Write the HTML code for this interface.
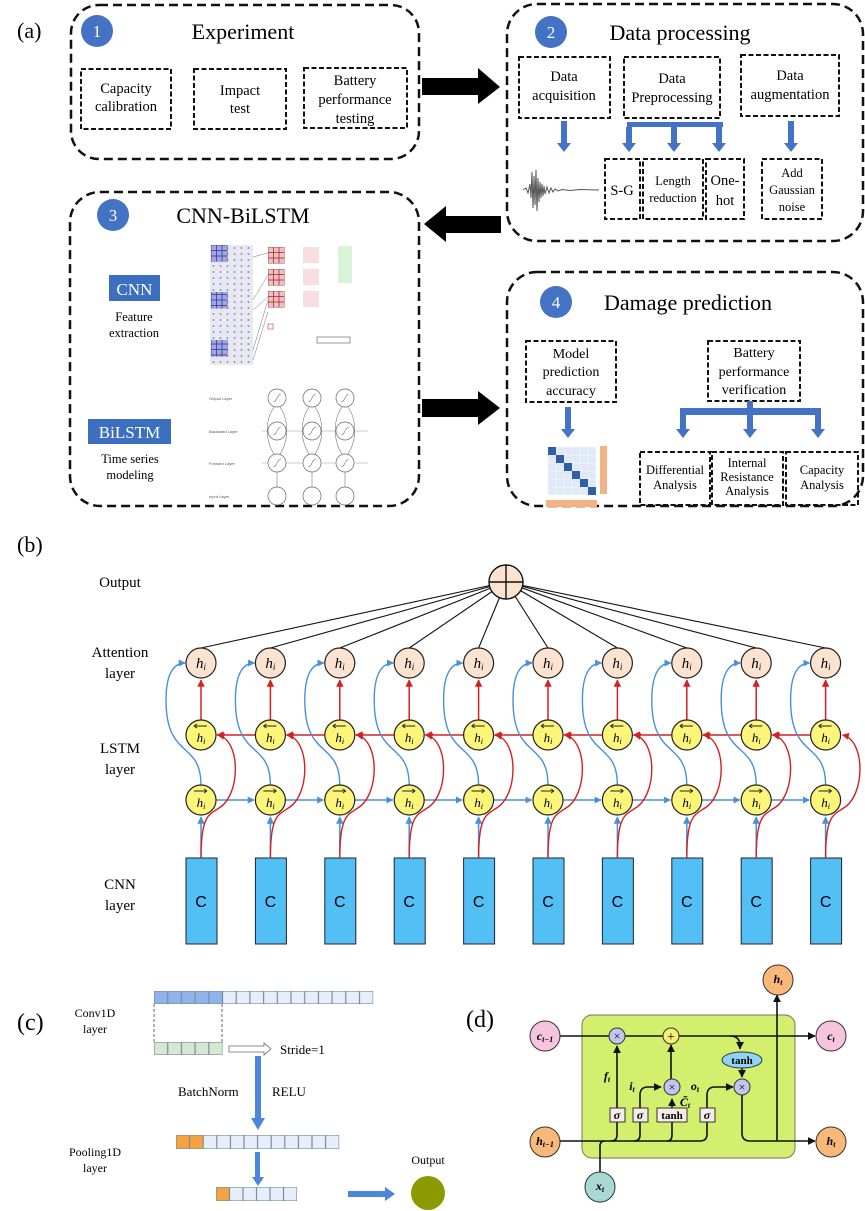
<!DOCTYPE html>
<html><head><meta charset="utf-8"><style>
html,body{margin:0;padding:0;background:#fff}
svg{display:block}
.s{font-family:"Liberation Serif",serif}
.a{font-family:"Liberation Sans",sans-serif}
</style></head><body>
<svg width="865" height="1211" viewBox="0 0 865 1211" xmlns="http://www.w3.org/2000/svg" xmlns:xlink="http://www.w3.org/1999/xlink">
<defs>
<marker id="mb" viewBox="0 0 10 10" refX="9" refY="5" markerWidth="5" markerHeight="5" orient="auto"><path d="M0,0L10,5L0,10z" fill="#4a90d9"/></marker>
<marker id="mr" viewBox="0 0 10 10" refX="9" refY="5" markerWidth="5" markerHeight="5" orient="auto"><path d="M0,0L10,5L0,10z" fill="#d62020"/></marker>
<marker id="mk" viewBox="0 0 10 10" refX="9" refY="5" markerWidth="5" markerHeight="5" orient="auto"><path d="M0,0L10,5L0,10z" fill="#111"/></marker>
<pattern id="pl" patternUnits="userSpaceOnUse" x="154" y="991" width="13.7" height="13"><rect width="13.7" height="13" fill="#e6eefa" stroke="#7a8aa0" stroke-width="1.2"/></pattern>
<pattern id="pb" patternUnits="userSpaceOnUse" x="154" y="991" width="13.7" height="13"><rect width="13.7" height="13" fill="#8fb4ec" stroke="#7a8aa0" stroke-width="1.2"/></pattern>
<pattern id="pg" patternUnits="userSpaceOnUse" x="154" y="1042" width="13.7" height="13"><rect width="13.7" height="13" fill="#d6e8cf" stroke="#7a8aa0" stroke-width="1.2"/></pattern>
<pattern id="pl2" patternUnits="userSpaceOnUse" x="176" y="1135" width="13.6" height="14"><rect width="13.6" height="14" fill="#e6eefa" stroke="#7a8aa0" stroke-width="1.2"/></pattern>
<pattern id="po2" patternUnits="userSpaceOnUse" x="176" y="1135" width="13.6" height="14"><rect width="13.6" height="14" fill="#f4a340" stroke="#7a8aa0" stroke-width="1.2"/></pattern>
<pattern id="pl3" patternUnits="userSpaceOnUse" x="216" y="1187" width="13.5" height="14"><rect width="13.5" height="14" fill="#e6eefa" stroke="#7a8aa0" stroke-width="1.2"/></pattern>
<pattern id="po3" patternUnits="userSpaceOnUse" x="216" y="1187" width="13.5" height="14"><rect width="13.5" height="14" fill="#f4a340" stroke="#7a8aa0" stroke-width="1.2"/></pattern>
<pattern id="tb" patternUnits="userSpaceOnUse" x="211" y="245" width="5.5" height="5.5"><rect width="5.5" height="5.5" fill="#9fa6e0" stroke="#3a3a9a" stroke-width="0.8"/></pattern>
<pattern id="tr" patternUnits="userSpaceOnUse" x="268" y="247" width="5.5" height="5.5"><rect width="5.5" height="5.5" fill="#f0c0c0" stroke="#a03030" stroke-width="0.8"/></pattern>
<pattern id="tg" patternUnits="userSpaceOnUse" x="210" y="245" width="7" height="6"><rect width="7" height="6" fill="#e8e8f4"/><circle cx="3.5" cy="3" r="1" fill="#999"/></pattern>
<pattern id="cmp" patternUnits="userSpaceOnUse" x="548" y="447" width="8" height="8"><rect width="8" height="8" fill="#e0e9f7" stroke="#fff" stroke-width="0.4"/></pattern>
<g id="col">
<rect x="-15" y="858" width="31" height="86" fill="#52bff5" stroke="#223" stroke-width="1"/>
<path d="M0,858V817" stroke="#4a90d9" stroke-width="1.5" fill="none" marker-end="url(#mb)"/>
<path d="M0,858C0,815 8,815 18,808C40,795 40,740 17,735" stroke="#d62020" stroke-width="1.4" fill="none" marker-end="url(#mr)"/>
<path d="M0,785C0,740 -35,760 -35,700C-35,670 -25,663 -16,663" stroke="#4a90d9" stroke-width="1.4" fill="none" marker-end="url(#mb)"/>
<path d="M0,720V680" stroke="#d62020" stroke-width="1.5" fill="none" marker-end="url(#mr)"/>
<circle cx="0" cy="663" r="15" fill="#fbe3d0" stroke="#222" stroke-width="1.2"/>
<circle cx="0" cy="735" r="15" fill="#fbf57a" stroke="#222" stroke-width="1.2"/>
<circle cx="0" cy="800" r="15" fill="#fbf57a" stroke="#222" stroke-width="1.2"/>
<path d="M-7,726H6M-7,726l3,-2M-7,726l3,2M-7,791H6M6,791l-3,-2M6,791l-3,2" stroke="#222" stroke-width="0.9" fill="none"/>
</g>
<g id="hz">
<path d="M15,800H53" stroke="#4a90d9" stroke-width="1.4" fill="none" marker-end="url(#mb)"/>
<path d="M54,735H16" stroke="#d62020" stroke-width="1.5" fill="none" marker-end="url(#mr)"/>
</g>
<g id="lc">
<circle cx="0" cy="398" r="9" fill="#fff" stroke="#666" stroke-width="0.7"/>
<circle cx="0" cy="431" r="9" fill="#fff" stroke="#666" stroke-width="0.7"/>
<circle cx="0" cy="463" r="9" fill="#fff" stroke="#666" stroke-width="0.7"/>
<circle cx="0" cy="496" r="9" fill="#fff" stroke="#666" stroke-width="0.7"/>
<path d="M-4,402C0,402 0,394 4,394M-4,435C0,435 0,427 4,427M-4,467C0,467 0,459 4,459M0,487V472M-3,454C-12,440 -12,420 -3,407M3,454C12,440 12,420 3,407" stroke="#777" stroke-width="0.6" fill="none"/>
</g>
</defs>
<g class="s" fill="#000">
<!-- (a) -->
<text x="17" y="38" font-size="22">(a)</text>
<g fill="none" stroke="#111" stroke-width="2.5" stroke-dasharray="9,5">
<rect x="71" y="5" width="348" height="154" rx="28"/>
<rect x="507" y="4" width="356" height="237" rx="30"/>
<rect x="70" y="192" width="349" height="314" rx="30"/>
<rect x="507" y="272" width="356" height="234" rx="30"/>
</g>
<g fill="none" stroke="#111" stroke-width="2" stroke-dasharray="5,2.5">
<rect x="81" y="69" width="90" height="60"/><rect x="194" y="69" width="92" height="60"/><rect x="304" y="68" width="103" height="60"/>
<rect x="519" y="57" width="91" height="61"/><rect x="624" y="57" width="96" height="61"/><rect x="741" y="55" width="98" height="61"/>
<rect x="605" y="159" width="35" height="60"/><rect x="643" y="159" width="60" height="60"/><rect x="706" y="159" width="38" height="60"/><rect x="762" y="159" width="60" height="60"/>
<rect x="526" y="341" width="90" height="61"/><rect x="708" y="341" width="92" height="60"/>
<rect x="640" y="452" width="70" height="53"/><rect x="712" y="452" width="71" height="53"/><rect x="786" y="452" width="72" height="53"/>
</g>
<g fill="#4472c4"><circle cx="97" cy="31" r="16"/><circle cx="551" cy="32" r="16"/><circle cx="113" cy="215" r="16"/><circle cx="556" cy="302" r="16"/></g>
<g fill="#fff" font-size="17" text-anchor="middle"><text x="97" y="37">1</text><text x="551" y="38">2</text><text x="113" y="221">3</text><text x="556" y="308">4</text></g>
<g font-size="22" text-anchor="middle"><text x="243" y="39">Experiment</text><text x="680" y="40">Data processing</text><text x="243" y="223">CNN-BiLSTM</text><text x="688" y="310">Damage prediction</text></g>
<g font-size="14.5" text-anchor="middle">
<text x="126" y="93">Capacity</text><text x="126" y="111">calibration</text>
<text x="240" y="95">Impact</text><text x="240" y="113">test</text>
<text x="355" y="85">Battery</text><text x="355" y="104">performance</text><text x="355" y="123">testing</text>
<text x="564" y="81">Data</text><text x="564" y="100">acquisition</text>
<text x="672" y="83">Data</text><text x="672" y="102">Preprocessing</text>
<text x="790" y="80">Data</text><text x="790" y="99">augmentation</text>
<text x="622" y="195">S-G</text><text x="725" y="185">One-</text><text x="725" y="205">hot</text>
</g>
<g font-size="14" text-anchor="middle">
<text x="571" y="358">Model</text><text x="571" y="376">prediction</text><text x="571" y="395">accuracy</text>
<text x="754" y="357">Battery</text><text x="754" y="376">performance</text><text x="754" y="394">verification</text>
</g>
<g font-size="12.5" text-anchor="middle">
<text x="673" y="185">Length</text><text x="673" y="202">reduction</text>
<text x="792" y="177">Add</text><text x="792" y="194">Gaussian</text><text x="792" y="211">noise</text>
<text x="675" y="474">Differential</text><text x="675" y="489">Analysis</text>
<text x="747" y="467">Internal</text><text x="747" y="481">Resistance</text><text x="747" y="495">Analysis</text>
<text x="822" y="474">Capacity</text><text x="822" y="489">Analysis</text>
<text x="134" y="321">Feature</text><text x="134" y="337">extraction</text>
<text x="130" y="463">Time series</text><text x="130" y="479">modeling</text>
</g>
<rect x="109" y="275" width="51" height="26" fill="#3d6fc0"/><text x="134.5" y="295" font-size="17" fill="#fff" text-anchor="middle">CNN</text>
<rect x="88" y="419" width="83" height="25" fill="#3d6fc0"/><text x="129.5" y="438" font-size="17" fill="#fff" text-anchor="middle">BiLSTM</text>
<path d="M422,78H478V68L500,87L478,104V95H422z" fill="#000"/>
<path d="M501,216H446V206L424,224L446,242V233H501z" fill="#000"/>
<path d="M422,399H478V391L500,408L478,425V417H422z" fill="#000"/>
<g fill="#4472c4">
<path d="M561,121h6v22h4l-7,9l-7,-9h4z"/>
<path d="M788,121h6v22h4l-7,9l-7,-9h4z"/>
<rect x="627" y="122" width="96" height="5"/>
<path d="M626,127h6v16h4l-7,9l-7,-9h4z"/>
<path d="M671,127h6v16h4l-7,9l-7,-9h4z"/>
<path d="M716,127h6v16h4l-7,9l-7,-9h4z"/>
<path d="M565,407h6v22h4l-7,9l-7,-9h4z"/>
<rect x="680" y="408" width="141" height="7"/>
<path d="M680,415h6v14h4l-7,9l-7,-9h4z"/>
<path d="M747,401h6v28h4l-7,9l-7,-9h4z"/>
<path d="M815,415h6v14h4l-7,9l-7,-9h4z"/>
</g>
<path d="M523,190L526,188L528,193L530,184L531,198L532,172L533,208L534,176L535,205L536,170L537,211L538,178L539,202L540,182L541,198L542,184L543,196L544,186L545,194L547,187L549,193L551,188L553,192L555,189L558,191L562,189.5L570,190.5L580,189.5L599,190" fill="none" stroke="#555" stroke-width="1"/>
<!-- confusion matrix -->
<rect x="548" y="447" width="48" height="48" fill="url(#cmp)"/>
<g fill="#2f5fa8"><rect x="548" y="447" width="8" height="8"/><rect x="556" y="455" width="8" height="8"/><rect x="564" y="463" width="8" height="8"/><rect x="572" y="471" width="8" height="8"/><rect x="580" y="479" width="8" height="8"/><rect x="588" y="487" width="8" height="8"/></g>
<rect x="600" y="446" width="7" height="48" fill="#f4b183"/>
<rect x="546" y="500" width="51" height="7" fill="#f4b183"/>
<!-- conv thumbnail -->
<rect x="210" y="245" width="43" height="120" fill="url(#tg)"/>
<rect x="211" y="245" width="16.5" height="16.5" fill="url(#tb)"/><rect x="211" y="292" width="16.5" height="16.5" fill="url(#tb)"/><rect x="211" y="340" width="16.5" height="16.5" fill="url(#tb)"/>
<rect x="268" y="247" width="16.5" height="16.5" fill="url(#tr)"/><rect x="268" y="269" width="16.5" height="16.5" fill="url(#tr)"/><rect x="268" y="291" width="16.5" height="16.5" fill="url(#tr)"/>
<rect x="303" y="247" width="16" height="16" fill="#f8dede"/><rect x="303" y="269" width="16" height="16" fill="#f8dede"/><rect x="303" y="291" width="16" height="16" fill="#f8dede"/>
<rect x="338" y="246" width="14" height="37" fill="#d8f4d8"/>
<path d="M253,257L268,253M253,300L268,275M253,310L268,297M253,350L268,300M253,360L268,312" stroke="#777" stroke-width="0.5"/>
<rect x="317" y="337" width="33" height="6" fill="none" stroke="#555" stroke-width="0.6"/>
<rect x="268" y="324" width="5" height="5" fill="none" stroke="#c33" stroke-width="0.6"/>
<g font-size="4" class="a" fill="#555"><text x="209" y="400">Output Layer</text><text x="209" y="433">Backward Layer</text><text x="209" y="465">Forward Layer</text><text x="209" y="498">Input Layer</text></g>
<path d="M262,463H368M262,431H368" stroke="#999" stroke-width="0.6"/>
<use xlink:href="#lc" href="#lc" x="277"/><use xlink:href="#lc" href="#lc" x="312"/><use xlink:href="#lc" href="#lc" x="345"/>

<!-- (b) -->
<text x="17" y="552" font-size="22">(b)</text>
<g font-size="15" text-anchor="middle"><text x="120" y="587">Output</text><text x="120" y="657">Attention</text><text x="120" y="678">layer</text><text x="120" y="753">LSTM</text><text x="120" y="774">layer</text><text x="120" y="889">CNN</text><text x="120" y="910">layer</text></g>
<g stroke="#111" stroke-width="1.1">
<line x1="506" y1="582" x2="201" y2="648"/><line x1="506" y1="582" x2="270.4" y2="648"/><line x1="506" y1="582" x2="339.8" y2="648"/><line x1="506" y1="582" x2="409.2" y2="648"/><line x1="506" y1="582" x2="478.6" y2="648"/><line x1="506" y1="582" x2="548" y2="648"/><line x1="506" y1="582" x2="617.4" y2="648"/><line x1="506" y1="582" x2="686.8" y2="648"/><line x1="506" y1="582" x2="756.2" y2="648"/><line x1="506" y1="582" x2="825.6" y2="648"/>
</g>
<use href="#hz" xlink:href="#hz" x="201"/><use href="#hz" xlink:href="#hz" x="270.4"/><use href="#hz" xlink:href="#hz" x="339.8"/><use href="#hz" xlink:href="#hz" x="409.2"/><use href="#hz" xlink:href="#hz" x="478.6"/><use href="#hz" xlink:href="#hz" x="548"/><use href="#hz" xlink:href="#hz" x="617.4"/><use href="#hz" xlink:href="#hz" x="686.8"/><use href="#hz" xlink:href="#hz" x="756.2"/>
<use href="#col" xlink:href="#col" x="201"/><use href="#col" xlink:href="#col" x="270.4"/><use href="#col" xlink:href="#col" x="339.8"/><use href="#col" xlink:href="#col" x="409.2"/><use href="#col" xlink:href="#col" x="478.6"/><use href="#col" xlink:href="#col" x="548"/><use href="#col" xlink:href="#col" x="617.4"/><use href="#col" xlink:href="#col" x="686.8"/><use href="#col" xlink:href="#col" x="756.2"/><use href="#col" xlink:href="#col" x="825.6"/>
<circle cx="506" cy="582" r="17" fill="#fbe3d0" stroke="#111" stroke-width="1.4"/>
<path d="M489,582H523M506,565V599" stroke="#111" stroke-width="1.4"/>
<g font-style="italic" font-size="15" text-anchor="middle">
<text x="201" y="668">h<tspan font-size="9" dy="2">i</tspan></text><text x="270.4" y="668">h<tspan font-size="9" dy="2">i</tspan></text><text x="339.8" y="668">h<tspan font-size="9" dy="2">i</tspan></text><text x="409.2" y="668">h<tspan font-size="9" dy="2">i</tspan></text><text x="478.6" y="668">h<tspan font-size="9" dy="2">i</tspan></text><text x="548" y="668">h<tspan font-size="9" dy="2">i</tspan></text><text x="617.4" y="668">h<tspan font-size="9" dy="2">i</tspan></text><text x="686.8" y="668">h<tspan font-size="9" dy="2">i</tspan></text><text x="756.2" y="668">h<tspan font-size="9" dy="2">i</tspan></text><text x="825.6" y="668">h<tspan font-size="9" dy="2">i</tspan></text>
</g>
<g font-style="italic" font-size="13" text-anchor="middle">
<text x="201" y="742">h<tspan font-size="8" dy="2">i</tspan></text><text x="270.4" y="742">h<tspan font-size="8" dy="2">i</tspan></text><text x="339.8" y="742">h<tspan font-size="8" dy="2">i</tspan></text><text x="409.2" y="742">h<tspan font-size="8" dy="2">i</tspan></text><text x="478.6" y="742">h<tspan font-size="8" dy="2">i</tspan></text><text x="548" y="742">h<tspan font-size="8" dy="2">i</tspan></text><text x="617.4" y="742">h<tspan font-size="8" dy="2">i</tspan></text><text x="686.8" y="742">h<tspan font-size="8" dy="2">i</tspan></text><text x="756.2" y="742">h<tspan font-size="8" dy="2">i</tspan></text><text x="825.6" y="742">h<tspan font-size="8" dy="2">i</tspan></text>
<text x="201" y="807">h<tspan font-size="8" dy="2">i</tspan></text><text x="270.4" y="807">h<tspan font-size="8" dy="2">i</tspan></text><text x="339.8" y="807">h<tspan font-size="8" dy="2">i</tspan></text><text x="409.2" y="807">h<tspan font-size="8" dy="2">i</tspan></text><text x="478.6" y="807">h<tspan font-size="8" dy="2">i</tspan></text><text x="548" y="807">h<tspan font-size="8" dy="2">i</tspan></text><text x="617.4" y="807">h<tspan font-size="8" dy="2">i</tspan></text><text x="686.8" y="807">h<tspan font-size="8" dy="2">i</tspan></text><text x="756.2" y="807">h<tspan font-size="8" dy="2">i</tspan></text><text x="825.6" y="807">h<tspan font-size="8" dy="2">i</tspan></text>
</g>
<g class="a" font-size="16" text-anchor="middle">
<text x="201" y="907">C</text><text x="270.4" y="907">C</text><text x="339.8" y="907">C</text><text x="409.2" y="907">C</text><text x="478.6" y="907">C</text><text x="548" y="907">C</text><text x="617.4" y="907">C</text><text x="686.8" y="907">C</text><text x="756.2" y="907">C</text><text x="825.6" y="907">C</text>
</g>

<!-- (c) -->
<text x="17" y="1030" font-size="24">(c)</text>
<g font-size="12" text-anchor="middle"><text x="95" y="1017">Conv1D</text><text x="95" y="1033">layer</text><text x="95" y="1156">Pooling1D</text><text x="95" y="1172">layer</text><text x="428" y="1164">Output</text></g>
<g font-size="13"><text x="280" y="1054">Stride=1</text><text x="178" y="1096">BatchNorm</text><text x="272" y="1096">RELU</text></g>
<rect x="154" y="991" width="219.2" height="13" fill="url(#pl)"/>
<rect x="154" y="991" width="68.5" height="13" fill="url(#pb)"/>
<rect x="154" y="1042" width="68.5" height="13" fill="url(#pg)"/>
<rect x="176" y="1135" width="163.2" height="14" fill="url(#pl2)"/>
<rect x="176" y="1135" width="27.2" height="14" fill="url(#po2)"/>
<rect x="216" y="1187" width="81" height="14" fill="url(#pl3)"/>
<rect x="216" y="1187" width="13.5" height="14" fill="url(#po3)"/>
<path d="M154,1004V1043M222,1004V1043" stroke="#666" stroke-dasharray="3,2" fill="none"/>
<path d="M229,1046h35v-3l7,6l-7,6v-3h-35z" fill="#fff" stroke="#666" stroke-width="0.8"/>
<path d="M255,1056h6v62h4l-7,12l-7,-12h4z" fill="#4a86d9"/>
<path d="M255,1152h5v25h4l-6,9l-6,-9h3z" fill="#4a86d9"/>
<path d="M348,1191h37v-4l10,7l-10,7v-4h-37z" fill="#4a86d9"/>
<circle cx="428" cy="1193" r="17" fill="#8b9a00"/>

<!-- (d) -->
<text x="466" y="1027" font-size="24">(d)</text>
<rect x="582" y="1015" width="213" height="143" rx="10" fill="#d4ef6e" stroke="#8a8a70" stroke-width="1.2"/>
<g fill="none" stroke="#111" stroke-width="1.6">
<path d="M560,1036H815" marker-end="url(#mk)"/>
<path d="M730,1036q10,0 10,10v3" marker-end="url(#mk)"/>
<path d="M742,1068v9" marker-end="url(#mk)"/>
<path d="M742,1095v38q0,8 8,8h65" marker-end="url(#mk)"/>
<path d="M560,1141H700q7,0 7,-7v-14"/>
<path d="M600,1172V1146q0,-5 5,-5"/>
<path d="M617,1108V1046" marker-end="url(#mk)"/>
<path d="M611,1141q6,0 6,-6V1122"/>
<path d="M634,1141q6,0 6,-6V1122M640,1108V1095q0,-8 8,-8h13" marker-end="url(#mk)"/>
<path d="M667,1141q5,0 5,-6V1122"/>
<path d="M672,1108v-9" marker-end="url(#mk)"/>
<path d="M671,1079v-34" marker-end="url(#mk)"/>
<path d="M707,1108V1095q0,-8 8,-8h18" marker-end="url(#mk)"/>
<path d="M777,1141V995" marker-end="url(#mk)"/>
</g>
<g stroke="#333" stroke-width="1">
<circle cx="545" cy="1036" r="15" fill="#f6c4dc"/><circle cx="831" cy="1036" r="15" fill="#f6c4dc"/>
<circle cx="545" cy="1142" r="15" fill="#f8b87a"/><circle cx="831" cy="1142" r="15" fill="#f8b87a"/>
<circle cx="778" cy="980" r="15" fill="#f8b87a"/><circle cx="600" cy="1187" r="15" fill="#a8d8d6"/>
<circle cx="617" cy="1036" r="8" fill="#c4c4f0"/><circle cx="671" cy="1036" r="8" fill="#f8f070"/>
<circle cx="672" cy="1087" r="8" fill="#c4c4f0"/><circle cx="742" cy="1087" r="8" fill="#c4c4f0"/>
<ellipse cx="742" cy="1060" rx="20" ry="8" fill="#8fd3f5"/>
<rect x="610" y="1108" width="15" height="14" fill="#f6eaea"/><rect x="633" y="1108" width="15" height="14" fill="#f6eaea"/>
<rect x="657" y="1108" width="30" height="14" fill="#f6eaea"/><rect x="700" y="1108" width="15" height="14" fill="#f6eaea"/>
</g>
<g font-size="12" text-anchor="middle" font-weight="bold">
<text x="617" y="1040" font-weight="normal">×</text><text x="671" y="1041" font-weight="normal" font-size="14">+</text>
<text x="672" y="1091" font-weight="normal">×</text><text x="742" y="1091" font-weight="normal">×</text>
<text x="742" y="1064" font-size="11">tanh</text><text x="672" y="1119" font-size="11">tanh</text>
<g font-style="italic"><text x="617" y="1119">σ</text><text x="640" y="1119">σ</text><text x="707" y="1119">σ</text>
<text x="545" y="1040">c<tspan font-size="8" dy="2">t−1</tspan></text><text x="831" y="1040">c<tspan font-size="8" dy="2">t</tspan></text>
<text x="545" y="1145">h<tspan font-size="8" dy="2">t−1</tspan></text><text x="831" y="1145">h<tspan font-size="8" dy="2">t</tspan></text>
<text x="778" y="983">h<tspan font-size="8" dy="2">t</tspan></text><text x="600" y="1190">x<tspan font-size="8" dy="2">t</tspan></text>
<text x="607" y="1080">f<tspan font-size="8" dy="2">t</tspan></text><text x="632" y="1090">i<tspan font-size="8" dy="2">t</tspan></text>
<text x="695" y="1090">o<tspan font-size="8" dy="2">t</tspan></text><text x="685" y="1106">C̃<tspan font-size="8" dy="2">t</tspan></text></g>
</g>
</g>
</svg>
</body></html>
